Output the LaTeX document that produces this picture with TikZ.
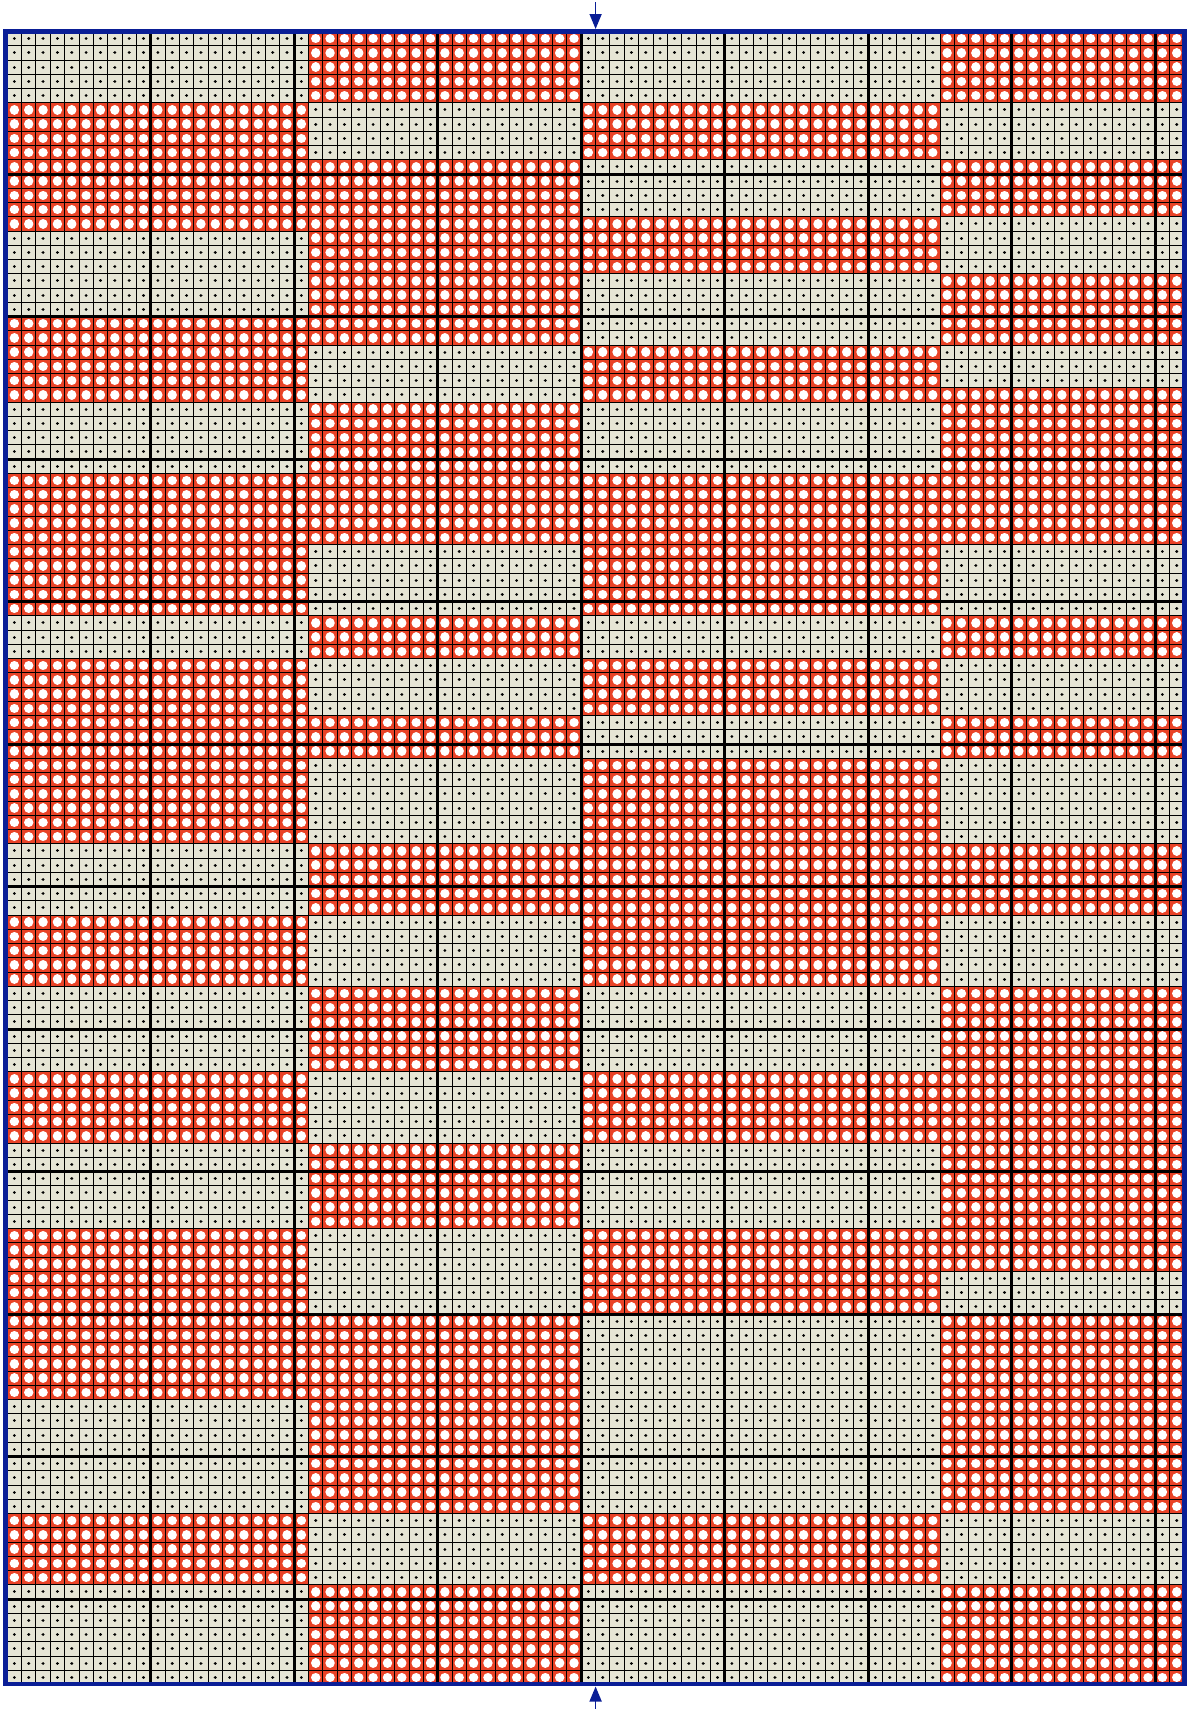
\documentclass[tikz,border=0pt]{standalone}
\usetikzlibrary{arrows.meta}
\definecolor{stitchred}{HTML}{E94327}
\definecolor{stitchcream}{HTML}{E6E5D5}
\definecolor{edgeblue}{HTML}{0A1E96}
\begin{document}
\begin{tikzpicture}[x=1pt,y=-1pt,
  thinrule/.style={line width=0.85pt,black},
  boldrule/.style={line width=3pt,black},
  dotrow/.style={black,line width=3.2pt,line cap=round,dash pattern=on 0.01pt off 14.34pt},
  holerow/.style={white,line width=9.4pt,line cap=round,dash pattern=on 0.01pt off 14.34pt},
  centremark/.style={edgeblue,line width=1.6pt,-{Triangle[length=15pt,width=12pt]}}]
\useasboundingbox (0,0) rectangle (1192,1709);

\begin{scope}[shift={(7.2pt,-31.5pt)},x=14.35pt,y=-14.25pt]
\fill[stitchcream] (0,0) rectangle (82,116);
\foreach \r in {0,...,115} \draw[dotrow] (0.5,\r+.5) -- (81.6,\r+.5);

\foreach \a/\b/\s/\t in {0/20/5/13, 0/20/20/25, 0/20/31/40, 0/20/44/56, 0/20/62/66, 0/20/73/77, 0/20/84/95, 0/20/104/108,
    21/39/0/4, 21/39/9/21, 21/39/26/35, 21/39/41/43, 21/39/48/50, 21/39/57/61, 21/39/67/72, 21/39/78/83, 21/39/90/103, 21/39/109/115,
    40/64/5/8, 40/64/13/16, 40/64/22/25, 40/64/31/40, 40/64/44/47, 40/64/51/66, 40/64/73/77, 40/64/84/89, 40/64/104/108,
    65/81/0/4, 65/81/9/12, 65/81/17/21, 65/81/25/35, 65/81/41/43, 65/81/48/50, 65/81/57/61, 65/81/67/86, 65/81/90/103, 65/81/109/115} {
  \fill[stitchred] (\a,\s) rectangle (\b+1,\t+1);
  \foreach \r in {\s,...,\t} \draw[holerow] (\a+.5,\r+.5) -- (\b+.6,\r+.5);
}

\foreach \c in {0,...,82} \draw[thinrule] (\c,0) -- (\c,116);
\foreach \r in {0,...,116} \draw[thinrule] (0,\r) -- (82,\r);
\foreach \c in {10,20,...,80} \draw[boldrule] (\c,0) -- (\c,116);
\foreach \r in {10,20,...,110} \draw[boldrule] (0,\r) -- (82,\r);
\end{scope}

\draw[edgeblue,line width=4.7pt] (5.4,31.3) rectangle (1184.5,1684);

\coordinate (topstart) at (595.6,2);
\coordinate (toptip) at (595.6,29);
\coordinate (basestart) at (595.6,1709);
\coordinate (basetip) at (595.6,1686.5);
\draw[centremark] (topstart) -- (toptip);
\draw[centremark] (basestart) -- (basetip);
\end{tikzpicture}
\end{document}
